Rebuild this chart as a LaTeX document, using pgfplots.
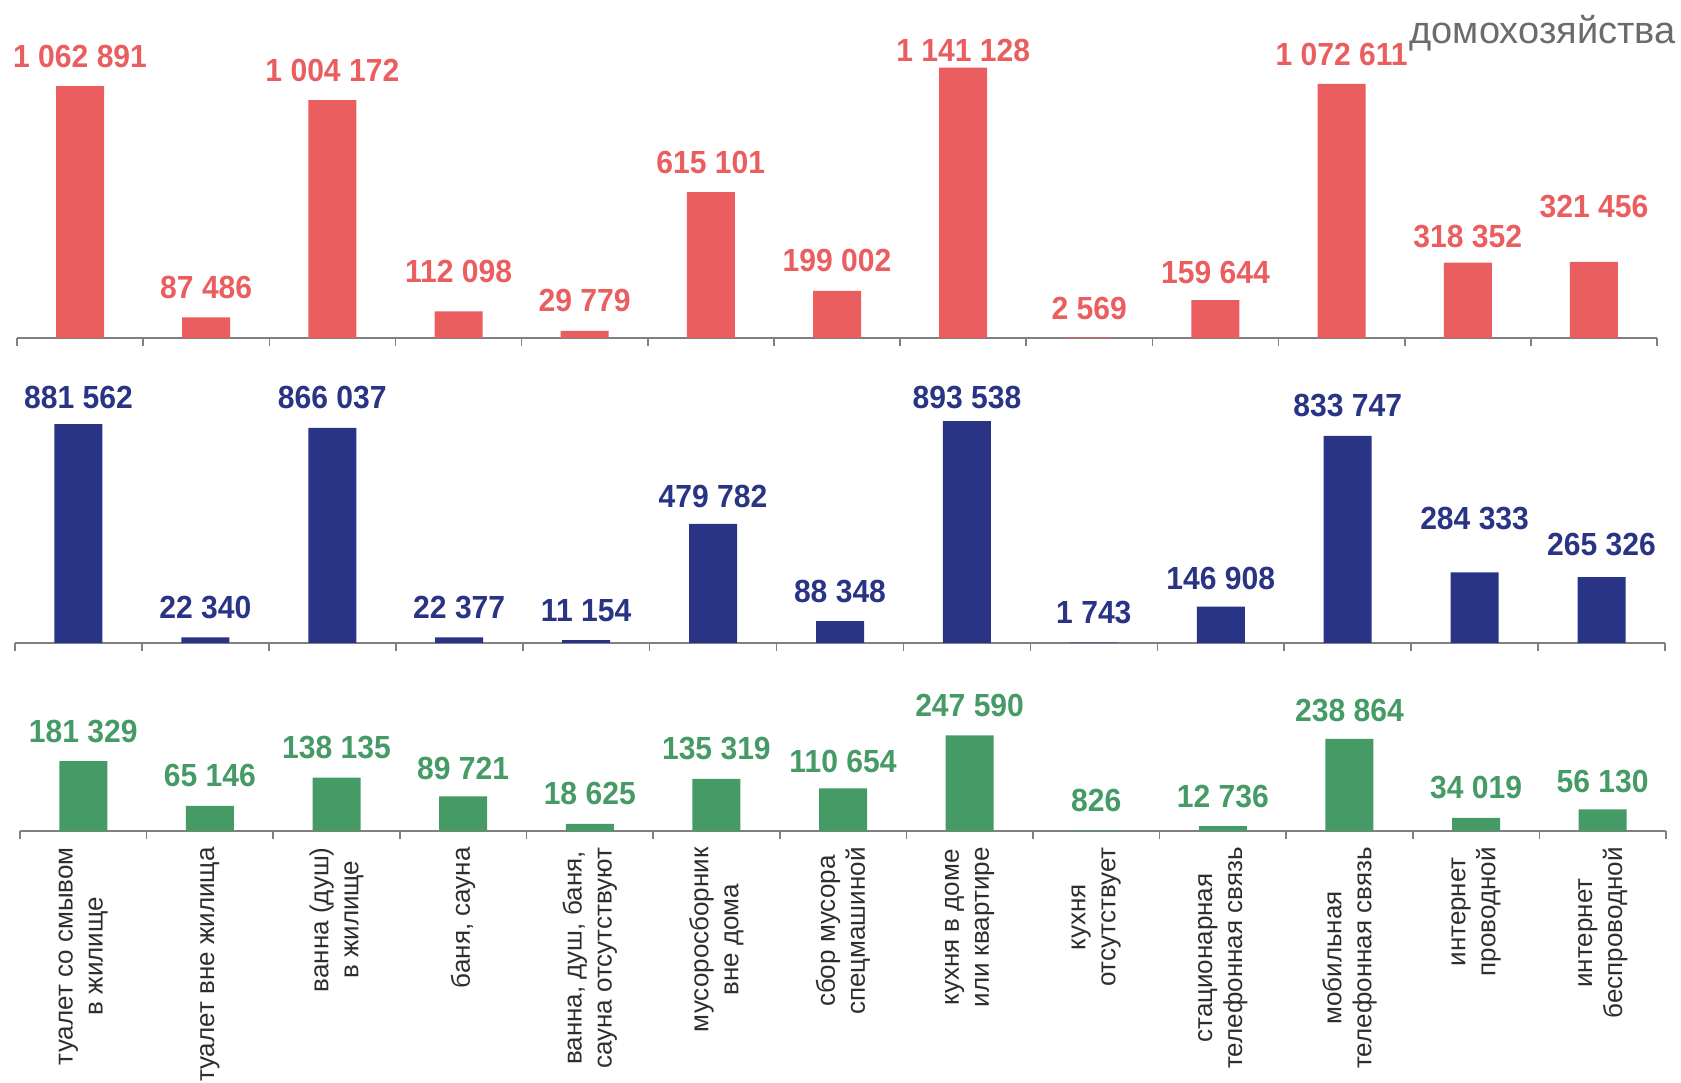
\documentclass[border=0pt]{standalone}
\usepackage{pgfplots}
\usepackage{pgfplotstable}
\pgfplotsset{compat=1.18}
\usepackage{fontspec}
\setmainfont{Liberation Sans}
\newfontfamily\numfont{Liberation Sans}[FakeStretch=0.94]

\definecolor{cred}{RGB}{234,94,95}
\definecolor{cblue}{RGB}{41,52,133}
\definecolor{cgreen}{RGB}{69,154,102}
\definecolor{caxis}{RGB}{128,128,128}

% dy = extra lift of the value label (pt)
\pgfplotstableread{
x y       dy    lbl
0 1062891 0     {1 062 891}
1 87486   0     {87 486}
2 1004172 0     {1 004 172}
3 112098  4.8   {112 098}
4 29779   0     {29 779}
5 615101  0     {615 101}
6 199002  0     {199 002}
7 1141128 -6.7  {1 141 128}
8 2569    -0.8  {2 569}
9 159644  -1.2  {159 644}
10 1072611 -0.5 {1 072 611}
11 318352 -1.8  {318 352}
12 321456 12.5  {321 456}
}\redtab

\pgfplotstableread{
x y      dy    lbl
0 881562 -1.5  {881 562}
1 22340  0     {22 340}
2 866037 0     {866 037}
3 22377  0     {22 377}
4 11154  0     {11 154}
5 479782 -1.5  {479 782}
6 88348  0     {88 348}
7 893538 -3    {893 538}
8 1743   0     {1 743}
9 146908 -1    {146 908}
10 833747 0    {833 747}
11 284333 11.7 {284 333}
12 265326 1.3  {265 326}
}\bluetab

\pgfplotstableread{
x y      dy    lbl
0 181329 0     {181 329}
1 65146  0     {65 146}
2 138135 0     {138 135}
3 89721  -1    {89 721}
4 18625  0     {18 625}
5 135319 0     {135 319}
6 110654 -1.5  {110 654}
7 247590 0     {247 590}
8 826    0     {826}
9 12736  0     {12 736}
10 238864 -1   {238 864}
11 34019 0     {34 019}
12 56130 -1    {56 130}
}\greentab

% common look of the three panels
\pgfplotsset{
  panel/.style={
    scale only axis, anchor=south west,
    ybar, bar width=24pt,
    xmin=-0.5, xmax=12.5, ymin=0, enlargelimits=false, clip=false,
    axis y line=none, axis x line*=bottom,
    x axis line style={-, draw=caxis, line width=0.8pt},
    xtick={-0.5,0.5,...,12.5}, xticklabels={},
    tick align=outside, major tick length=4pt,
    xtick style={draw=caxis, line width=0.8pt},
    nodes near coords, point meta=explicit symbolic,
    visualization depends on={\thisrow{dy} \as \dy},
    every node near coord/.append style={anchor=base, yshift=9.5pt, yshift=\dy pt, inner sep=0pt,
      font=\numfont\bfseries\fontsize{16}{18}\selectfont},
  }
}

\begin{document}
\begin{tikzpicture}
\useasboundingbox (0,0) rectangle (840.5pt,541pt);

\node[anchor=base east, inner sep=0pt, text=black!58, font=\fontsize{19}{22}\selectfont]
  at (838pt,519pt) {домохозяйства};

% red panel
\begin{axis}[panel, at={(8.5pt,372pt)}, width=820pt, height=142.2pt, ymax=1200000,
  every node near coord/.append style={text=cred}]
  \addplot[fill=cred, draw=none] table[x=x, y=y, meta=lbl] {\redtab};
\end{axis}

% blue panel
\begin{axis}[panel, at={(7.5pt,219.5pt)}, width=825pt, height=124.2pt, ymax=1000000,
  every node near coord/.append style={text=cblue}]
  \addplot[fill=cblue, draw=none] table[x=x, y=y, meta=lbl] {\bluetab};
\end{axis}

% green panel with category names
\begin{axis}[panel, at={(10pt,125.5pt)}, width=823pt, height=57.9pt, ymax=300000,
  every node near coord/.append style={text=cgreen},
  extra x ticks={0,...,12},
  extra x tick labels={
    {туалет  со смывом\\в жилище},
    {туалет  вне жилища},
    {ванна  (душ)\\в жилище},
    {баня, сауна},
    {ванна, душ, баня,\\сауна отсутствуют},
    {мусоросборник\\вне дома},
    {сбор мусора\\спецмашиной},
    {кухня в доме\\или  квартире},
    {кухня\\отсутствует},
    {стационарная\\телефонная  связь},
    {мобильная\\телефонная  связь},
    {интернет\\проводной},
    {интернет\\беспроводной}},
  extra x tick style={major tick length=0pt,
    tick label style={yshift=-8pt, rotate=90, anchor=east, align=center, inner sep=0pt,
      text=black!82, font=\fontsize{13}{15}\selectfont}}]
  \addplot[fill=cgreen, draw=none] table[x=x, y=y, meta=lbl] {\greentab};
\end{axis}
\end{tikzpicture}
\end{document}
